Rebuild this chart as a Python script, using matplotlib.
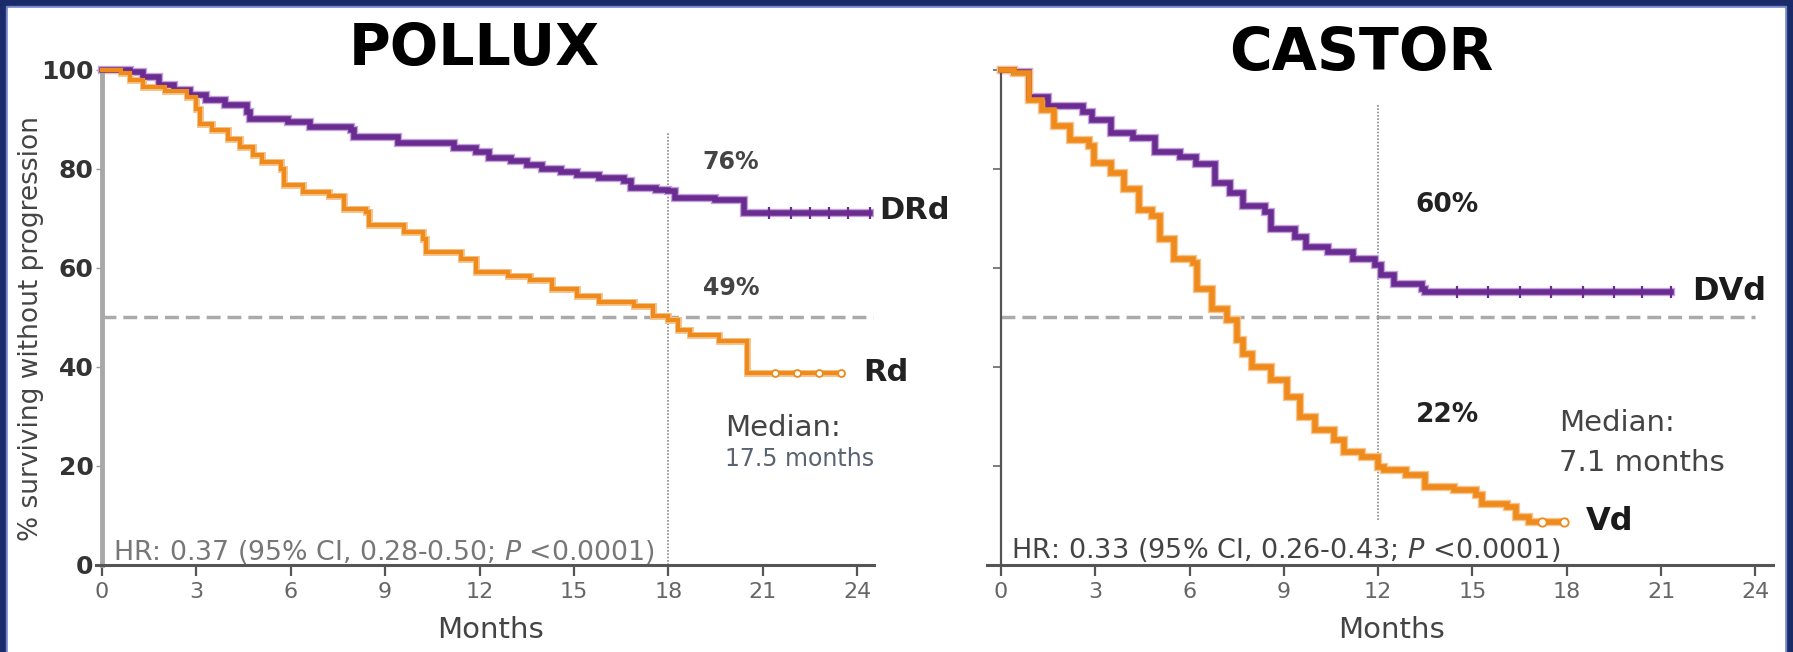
import matplotlib
matplotlib.use("Agg")
import matplotlib.pyplot as plt
from matplotlib.patches import Rectangle

# --- Data ---
month_ticks = [0, 3, 6, 9, 12, 15, 18, 21, 24]
pct_ticks = [0, 20, 40, 60, 80, 100]

# POLLUX
drd_t = [0, 0.9, 1.3, 1.8, 2.3, 2.8, 3.3, 3.9, 4.6, 4.7, 5.9, 6.6, 7.9, 8.0, 9.4,
         11.2, 11.9, 12.3, 13.0, 13.5, 14.0, 14.6, 15.1, 15.8, 16.6, 16.8, 17.6,
         18.0, 18.2, 19.5, 20.4, 24.4]
drd_s = [100, 99.5, 98.5, 97, 96, 95, 94, 93, 91.5, 90, 89.5, 88.5, 87.8, 86.5, 85.2,
         84.2, 83.4, 82.2, 81.6, 80.8, 80.0, 79.3, 78.8, 78.2, 77.6, 76.2, 75.8,
         75.5, 74.2, 73.8, 71.2, 71.2]
rd_t = [0, 0.6, 0.9, 1.3, 2.0, 2.7, 3.0, 3.1, 3.5, 4.0, 4.4, 4.8, 5.1, 5.7, 5.8,
        6.4, 7.2, 7.7, 8.4, 8.5, 9.6, 10.2, 10.3, 11.4, 11.9, 12.9, 13.6, 14.3,
        15.1, 15.8, 16.9, 17.5, 18.0, 18.3, 18.7, 19.6, 20.5, 23.5]
rd_s = [100, 99.3, 98, 96.6, 95.8, 94.5, 92.2, 89, 87.8, 86.1, 84.5, 82.8, 81.4, 80, 76.8,
        75.3, 74.6, 72, 71.3, 68.6, 67.2, 65.9, 63.2, 61.8, 59.1, 58.4, 57.6, 55.7,
        54.4, 53.1, 52.4, 50.3, 49.5, 47.5, 46.5, 45.3, 38.8, 38.8]
drd_cens_t = [21.2, 21.9, 22.5, 23.1, 23.7, 24.4]
drd_cens_s = [71.2, 71.2, 71.2, 71.2, 71.2, 71.2]
rd_cens_t = [21.4, 22.1, 22.8, 23.5]
rd_cens_s = [38.8, 38.8, 38.8, 38.8]

# CASTOR
dvd_t = [0, 0.4, 0.9, 1.5, 2.6, 2.9, 3.5, 4.2, 4.9, 5.7, 6.2, 6.8, 7.3, 7.7, 8.4,
         8.6, 9.35, 9.7, 10.4, 11.2, 11.9, 12.1, 12.5, 13.4, 13.5, 21.3]
dvd_s = [100, 99.5, 94.5, 92.8, 91.5, 89.9, 87.2, 86.3, 83.5, 82.5, 81.0, 77.1, 75.1, 72.5, 71.4,
         67.8, 66.2, 64.2, 63.2, 61.8, 60.5, 58.5, 56.8, 55.8, 55.1, 55.1]
vd_t = [0, 0.4, 0.9, 1.3, 1.7, 2.2, 2.8, 2.95, 3.5, 3.9, 4.4, 4.8, 5.05, 5.5, 6.1,
        6.25, 6.7, 7.2, 7.5, 7.7, 8.0, 8.6, 9.1, 9.5, 10.0, 10.6, 10.9, 11.5, 12.0,
        12.2, 12.9, 13.5, 14.4, 15.1, 15.3, 16.1, 16.4, 16.8, 17.9]
vd_s = [100, 99.3, 93.9, 92, 88.6, 85.9, 84.6, 81.2, 79.2, 75.9, 71.8, 70.5, 65.8, 61.8, 61.1,
        55.7, 51.7, 49.5, 45.4, 42.7, 40, 37.3, 33.9, 29.9, 27.2, 25.2, 22.8, 21.8, 19.8,
        19.1, 18.1, 15.8, 15.1, 14.1, 12.4, 11.8, 9.7, 8.6, 8.6]
dvd_cens_t = [14.5, 15.5, 16.5, 17.5, 18.5, 19.5, 20.4, 21.3]
dvd_cens_s = [55.1, 55.1, 55.1, 55.1, 55.1, 55.1, 55.1, 55.1]
vd_cens_t = [17.2, 17.9]
vd_cens_s = [8.6, 8.6]

purple = "#6a2c90"
purple_halo = "#c3a2dc"
orange = "#ef8a1c"
orange_halo = "#f7c48c"
navy = "#1b2a68"

# --- Figure with blue frame ---
fig = plt.figure(figsize=(17.93, 6.52), dpi=100, facecolor=navy)
fig.patches.append(Rectangle((6 / 1793, 0), 1780 / 1793, 646 / 652,
                             transform=fig.transFigure, color="#7088c8", zorder=-10))
fig.patches.append(Rectangle((8 / 1793, 0), 1776 / 1793, 644 / 652,
                             transform=fig.transFigure, color="white", zorder=-9))

ax1 = fig.add_axes([0.05338, 0.13344, 0.43425, 0.78206])
ax2 = fig.add_axes([0.55036, 0.13344, 0.43832, 0.78206])


def style_axes(ax, xmin, show_ylabels):
    ax.set_facecolor("none")
    ax.set_xlim(xmin, 24.55)
    ax.set_ylim(0, 103)
    for s in ["top", "right"]:
        ax.spines[s].set_visible(False)
    ax.spines["left"].set_position(("data", 0))
    ax.spines["left"].set_bounds(0, 100)
    ax.spines["bottom"].set_color("#555555")
    ax.spines["bottom"].set_linewidth(2.2)
    ax.set_xticks(month_ticks)
    ax.set_yticks(pct_ticks)
    ax.tick_params(axis="x", direction="out", length=8, width=1.6, color="#555555",
                   labelsize=16, labelcolor="#666666", pad=4)
    if show_ylabels:
        ax.spines["left"].set_color("#a8a8a8")
        ax.spines["left"].set_linewidth(3.5)
        ax.tick_params(axis="y", direction="out", length=4, width=1, color="#999999",
                       labelsize=18, labelcolor="#333333", pad=2)
        for lab in ax.get_yticklabels():
            lab.set_fontweight("bold")
    else:
        ax.spines["left"].set_color("#555555")
        ax.spines["left"].set_linewidth(1.6)
        ax.tick_params(axis="y", direction="out", length=6, width=1.2, color="#666666",
                       labelleft=False)


def km(ax, t, s, color, halo, lw):
    ax.step(t, s, where="post", color=halo, lw=lw + 2.0, zorder=2, solid_joinstyle="miter")
    ax.step(t, s, where="post", color=color, lw=lw, zorder=3, solid_joinstyle="miter")


style_axes(ax1, -0.2, True)
style_axes(ax2, -0.45, False)

# --- POLLUX ---
ax1.plot([0, 24.5], [50, 50], color="#aaaaaa", lw=2.5, dashes=(4, 2), zorder=1)
ax1.plot([18, 18], [0, 87.3], color="#8a8a8a", lw=1.2, ls=(0, (1, 1)), zorder=1)
km(ax1, drd_t, drd_s, purple, purple_halo, 4.0)
km(ax1, rd_t, rd_s, orange, orange_halo, 3.0)
ax1.plot(drd_cens_t, drd_cens_s, ls="none", marker="|", ms=8, mew=1.6, color=purple, zorder=4)
ax1.plot(rd_cens_t, rd_cens_s, ls="none", marker="o", ms=5, mfc="white", mew=1.3,
         color=orange, zorder=4)

ax1.text(20.0, 81.4, "76%", fontsize=17, fontweight="bold", color="#444444", ha="center", va="center")
ax1.text(20.0, 56.0, "49%", fontsize=17, fontweight="bold", color="#444444", ha="center", va="center")
ax1.text(24.7, 71.7, "DRd", fontsize=22, fontweight="bold", color="#222222", ha="left", va="center")
ax1.text(24.2, 38.8, "Rd", fontsize=22, fontweight="bold", color="#222222", ha="left", va="center")
ax1.text(19.8, 27.7, "Median:", fontsize=21, color="#444444", ha="left", va="center")
ax1.text(19.8, 21.4, "17.5 months", fontsize=17, color="#5a6470", ha="left", va="center")
ax1.text(0.35, 2.6, r"HR: 0.37 (95% CI, 0.28-0.50; $\mathit{P}$ <0.0001)", fontsize=19.3,
         color="#777777", ha="left", va="center", zorder=5)

# --- CASTOR ---
ax2.plot([0, 24.0], [50, 50], color="#aaaaaa", lw=2.5, dashes=(4, 2), zorder=1)
ax2.plot([12, 12], [9, 93], color="#8a8a8a", lw=1.2, ls=(0, (1, 1)), zorder=1)
km(ax2, dvd_t, dvd_s, purple, purple_halo, 4.0)
km(ax2, vd_t, vd_s, orange, orange_halo, 4.0)
ax2.plot(dvd_cens_t, dvd_cens_s, ls="none", marker="|", ms=9, mew=1.6, color=purple, zorder=4)
ax2.plot(vd_cens_t, vd_cens_s, ls="none", marker="o", ms=6, mfc="white", mew=1.3,
         color=orange, zorder=4)

ax2.text(14.2, 72.7, "60%", fontsize=19, fontweight="bold", color="#222222", ha="center", va="center")
ax2.text(14.2, 30.3, "22%", fontsize=19, fontweight="bold", color="#222222", ha="center", va="center")
ax2.text(22.0, 55.2, "DVd", fontsize=23, fontweight="bold", color="#1a1a1a", ha="left", va="center")
ax2.text(18.6, 8.7, "Vd", fontsize=23, fontweight="bold", color="#1a1a1a", ha="left", va="center")
ax2.text(17.75, 28.7, "Median:", fontsize=21, color="#444444", ha="left", va="center")
ax2.text(17.75, 20.6, "7.1 months", fontsize=21, color="#444444", ha="left", va="center")
ax2.text(0.32, 3.0, r"HR: 0.33 (95% CI, 0.26-0.43; $\mathit{P}$ <0.0001)", fontsize=19.5,
         color="#444444", ha="left", va="center", zorder=5)

# --- Titles and axis labels ---
fig.text(0.2644, 0.9003, "POLLUX", fontsize=41, fontweight="bold", ha="center", va="baseline")
fig.text(0.7591, 0.8926, "CASTOR", fontsize=42, fontweight="bold", ha="center", va="baseline")
fig.text(0.2738, 0.034, "Months", fontsize=21, color="#444444", ha="center", va="center")
fig.text(0.7758, 0.034, "Months", fontsize=21, color="#444444", ha="center", va="center")
fig.text(0.0173, 0.4954, "% surviving without progression", fontsize=19, color="#444444",
         rotation=90, ha="center", va="center")

fig.savefig("out.png", dpi=100, facecolor=navy)
